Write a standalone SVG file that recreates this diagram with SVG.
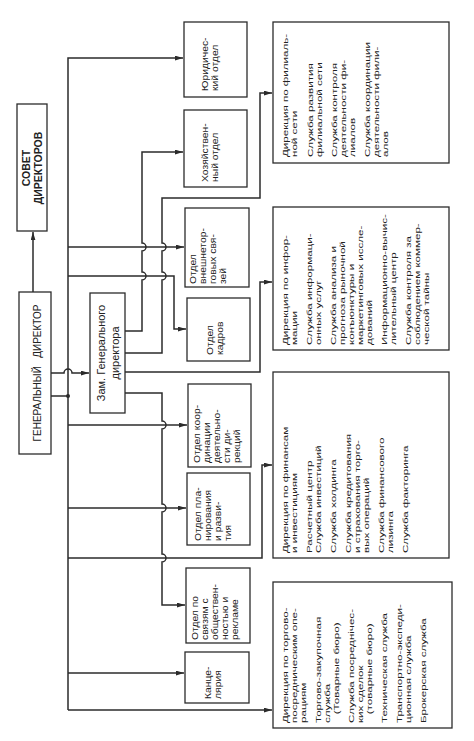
<svg xmlns="http://www.w3.org/2000/svg" width="474" height="741" viewBox="0 0 474 741">
<style>
.box{fill:#fff;stroke:#2b2b2b;stroke-width:1.3}
.ln{fill:none;stroke:#2b2b2b;stroke-width:1.5}
text{font-family:"Liberation Sans",Arial,sans-serif;fill:#222}
.cap{font-size:10.5px;font-weight:bold}
.gd{font-size:10px}
.zm{font-size:11px}
.m{font-size:9px}
.r{font-size:8px}
</style>
<defs>
<marker id="ar" viewBox="0 0 10 6" refX="10" refY="3" markerWidth="8" markerHeight="5" orient="auto" markerUnits="userSpaceOnUse"><path d="M0,0 L10,3 L0,6 z" fill="#2b2b2b"/></marker>
</defs>

<g id="connectors">
<path class="ln" d="M68,710 L68,58 L183,58" marker-end="url(#ar)"/>
<path class="ln" d="M68,710 L272,710" marker-end="url(#ar)"/>
<path class="ln" d="M68,247 L184,247" marker-end="url(#ar)"/>
<path class="ln" d="M68,276 L174,276 L174,329 L186,329" marker-end="url(#ar)"/>
<path class="ln" d="M68,425 L187,425" marker-end="url(#ar)"/>
<path class="ln" d="M68,508 L186,508" marker-end="url(#ar)"/>
<path class="ln" d="M68,558 L262,558 L262,465 L272,465" marker-end="url(#ar)"/>
<path class="ln" d="M68,673 L184,673" marker-end="url(#ar)"/>
<path class="ln" d="M51,396 L68,396"/>
<circle cx="68" cy="396" r="2" fill="#2b2b2b"/>
<path class="ln" d="M51,373 L64,373 A4,4 0 0 1 72,373 L89,373" marker-end="url(#ar)"/>
<path class="ln" d="M33,292 L33,232" marker-end="url(#ar)"/>
<path class="ln" d="M125,331 L142,331 L142,280 A4,4 0 0 0 142,272 L142,251 A4,4 0 0 0 142,243 L142,152 L183,152" marker-end="url(#ar)"/>
<path class="ln" d="M125,353 L162,353 L162,280 A4,4 0 0 0 162,272 L162,251 A4,4 0 0 0 162,243 L162,198 L260,198 L260,93 L272,93" marker-end="url(#ar)"/>
<path class="ln" d="M125,372 L260,372 L260,282 L272,282" marker-end="url(#ar)"/>
<path class="ln" d="M125,393 L162,393 L162,421 A4,4 0 0 1 162,429 L162,504 A4,4 0 0 1 162,512 L162,554 A4,4 0 0 1 162,562 L162,605 L185,605" marker-end="url(#ar)"/>
</g>

<g id="sovet">
<rect class="box" x="17" y="104" width="30" height="127"/>
<g transform="translate(0,168) rotate(-90)"><text class="cap" text-anchor="middle" x="0" y="30">СОВЕТ</text><text class="cap" text-anchor="middle" x="0" y="42">ДИРЕКТОРОВ</text></g>
</g>

<g id="gendir">
<rect class="box" x="19" y="292" width="32" height="162"/>
<g transform="translate(0,373) rotate(-90)"><text class="gd" text-anchor="middle" x="0" y="41">ГЕНЕРАЛЬНЫЙ&#160;&#160;&#160;ДИРЕКТОР</text></g>
</g>

<g id="zam">
<rect class="box" x="90" y="293" width="35" height="120"/>
<g transform="translate(0,353) rotate(-90)"><text class="zm" text-anchor="middle" x="0" y="105">Зам. Генерального</text><text class="zm" text-anchor="middle" x="0" y="119">директора</text></g>
</g>

<g id="yur">
<rect class="box" x="184" y="22" width="63" height="75"/>
<g transform="translate(0,91) rotate(-90) scale(1.15,1)"><text class="m" x="0" y="208">Юридичес-</text><text class="m" x="0" y="218">кий отдел</text></g>
</g>

<g id="hoz">
<rect class="box" x="184" y="110" width="63" height="77"/>
<g transform="translate(0,182) rotate(-90) scale(1.15,1)"><text class="m" x="0" y="208">Хозяйствен-</text><text class="m" x="0" y="218">ный отдел</text></g>
</g>

<g id="vnesh">
<rect class="box" x="185" y="208" width="64" height="79"/>
<g transform="translate(0,284) rotate(-90) scale(1.15,1)"><text class="m" x="0" y="196">Отдел</text><text class="m" x="0" y="206">внешнетор-</text><text class="m" x="0" y="216">говых свя-</text><text class="m" x="0" y="226">зей</text></g>
</g>

<g id="kadr">
<rect class="box" x="187" y="298" width="63" height="63"/>
<g transform="translate(0,355) rotate(-90) scale(1.15,1)"><text class="m" x="0" y="213">Отдел</text><text class="m" x="0" y="223">кадров</text></g>
</g>

<g id="koord">
<rect class="box" x="188" y="384" width="63" height="83"/>
<g transform="translate(0,463) rotate(-90) scale(1.15,1)"><text class="m" x="0" y="200">Отдел коор-</text><text class="m" x="0" y="210">динации</text><text class="m" x="0" y="220">деятельно-</text><text class="m" x="0" y="230">сти ди-</text><text class="m" x="0" y="240">рекций</text></g>
</g>

<g id="plan">
<rect class="box" x="187" y="473" width="63" height="72"/>
<g transform="translate(0,541) rotate(-90) scale(1.15,1)"><text class="m" x="0" y="201">Отдел пла-</text><text class="m" x="0" y="211">нирования</text><text class="m" x="0" y="221">и разви-</text><text class="m" x="0" y="231">тия</text></g>
</g>

<g id="pr">
<rect class="box" x="186" y="568" width="64" height="75"/>
<g transform="translate(0,640) rotate(-90) scale(1.15,1)"><text class="m" x="0" y="198">Отдел по</text><text class="m" x="0" y="208">связям с</text><text class="m" x="0" y="218">обществен-</text><text class="m" x="0" y="228">ностью и</text><text class="m" x="0" y="238">рекламе</text></g>
</g>

<g id="kanc">
<rect class="box" x="185" y="652" width="64" height="51"/>
<g transform="translate(0,699) rotate(-90) scale(1.15,1)"><text class="m" x="0" y="211">Канце-</text><text class="m" x="0" y="221">лярия</text></g>
</g>

<g id="filial">
<rect class="box" x="273" y="22" width="176" height="141"/>
<g transform="translate(0,157) rotate(-90) scale(1.45,1)">
<text class="r" x="0" y="288">Дирекция по филиаль-</text><text class="r" x="0" y="297">ной сети</text>
<text class="r" x="0" y="313">Служба развития</text><text class="r" x="0" y="322">филиальной сети</text>
<text class="r" x="0" y="337">Служба контроля</text><text class="r" x="0" y="346">деятельности фи-</text><text class="r" x="0" y="355">лиалов</text>
<text class="r" x="0" y="370">Служба координации</text><text class="r" x="0" y="379">деятельности фили-</text><text class="r" x="0" y="388">алов</text>
</g>
</g>

<g id="inform">
<rect class="box" x="273" y="207" width="176" height="143"/>
<g transform="translate(0,345) rotate(-90) scale(1.45,1)">
<text class="r" x="0" y="288">Дирекция по инфор-</text><text class="r" x="0" y="297">мации</text>
<text class="r" x="0" y="312">Служба информаци-</text><text class="r" x="0" y="321">онных услуг</text>
<text class="r" x="0" y="336">Служба анализа и</text><text class="r" x="0" y="345">прогноза рыночной</text><text class="r" x="0" y="354">конъюнктуры и</text><text class="r" x="0" y="363">маркетинговых иссле-</text><text class="r" x="0" y="372">дований</text>
<text class="r" x="0" y="387">Информационно-вычис-</text><text class="r" x="0" y="396">лительный центр</text>
<text class="r" x="0" y="411">Служба контроля за</text><text class="r" x="0" y="420">соблюдением коммер-</text><text class="r" x="0" y="429">ческой тайны</text>
</g>
</g>

<g id="finance">
<rect class="box" x="273" y="372" width="176" height="186"/>
<g transform="translate(0,553) rotate(-90) scale(1.45,1)">
<text class="r" x="0" y="288">Дирекция по финансам</text><text class="r" x="0" y="297">и инвестициям</text>
<text class="r" x="0" y="312">Расчетный центр</text><text class="r" x="0" y="321">Служба инвестиций</text>
<text class="r" x="0" y="336">Служба холдинга</text>
<text class="r" x="0" y="351">Служба кредитования</text><text class="r" x="0" y="360">и страхования торго-</text><text class="r" x="0" y="369">вых операций</text>
<text class="r" x="0" y="384">Служба финансового</text><text class="r" x="0" y="393">лизинга</text>
<text class="r" x="0" y="408">Служба факторинга</text>
</g>
</g>

<g id="trade">
<rect class="box" x="273" y="582" width="179" height="146"/>
<g transform="translate(0,723) rotate(-90) scale(1.45,1)">
<text class="r" x="0" y="288">Дирекция по торгово-</text><text class="r" x="0" y="297">посредническим опе-</text><text class="r" x="0" y="306">рациям</text>
<text class="r" x="0" y="321">Торгово-закупочная</text><text class="r" x="0" y="330">служба</text><text class="r" x="6" y="339">(Товарные бюро)</text>
<text class="r" x="0" y="354">Служба посреднічес-</text><text class="r" x="0" y="363">ких сделок</text><text class="r" x="6" y="372">(товарные бюро)</text>
<text class="r" x="0" y="387">Техническая служба</text>
<text class="r" x="0" y="402">Транспортно-экспеди-</text><text class="r" x="0" y="411">ционная служба</text>
<text class="r" x="0" y="426">Брокерская служба</text>
</g>
</g>
</svg>
